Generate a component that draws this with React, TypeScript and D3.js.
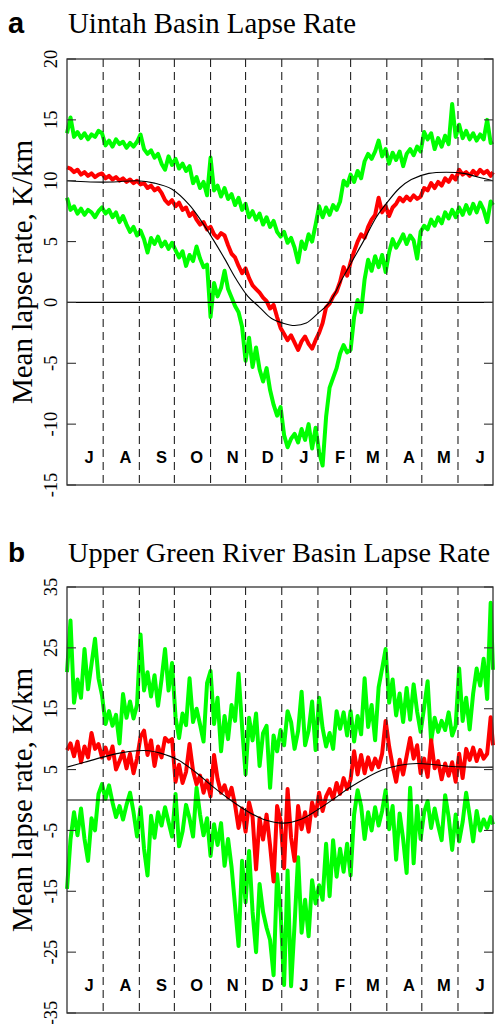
import React from "react";
import * as d3 from "d3";

// ---------- data ----------
const MONTHS = ["J", "A", "S", "O", "N", "D", "J", "F", "M", "A", "M", "J"];
const MONTH_START = [0, 31, 62, 92, 123, 153, 184, 215, 243, 274, 304, 335];
const STEP_DAYS = 3;

const TICKS_A = [20, 15, 10, 5, 0, -5, -10, -15];
const TICKS_B = [35, 25, 15, 5, -5, -15, -25, -35];

// Panel a: Uintah Basin (values every 3 days starting 1 July)
const UINTAH_HIGH = [
  13.9, 15.2, 13.6, 14.0, 13.5, 13.9, 13.4, 13.8, 13.6, 14.1,
  13.9, 12.9, 13.3, 12.8, 13.4, 13.0, 13.2, 12.7, 13.1, 12.8,
  13.2, 13.8, 12.6, 12.2, 12.5, 11.9, 12.2, 11.4, 10.9, 12.0,
  11.3, 11.8, 11.0, 11.4, 10.8, 11.2, 9.8, 10.3, 9.4, 9.9,
  8.8, 11.9, 9.2, 9.6, 8.7, 9.4, 8.5, 8.9, 8.0, 8.6,
  7.6, 8.1, 7.0, 7.5, 6.8, 7.3, 6.4, 7.0, 6.2, 6.7,
  5.8, 5.4, 5.8, 4.9, 5.3, 4.5, 3.3, 5.0, 4.4, 5.6,
  5.0, 6.4, 7.9, 7.0, 7.8, 7.2, 8.0, 7.6, 8.3, 10.0,
  9.6, 10.5, 9.9, 10.8, 10.2, 11.6, 12.2, 11.8, 12.4, 13.3,
  12.0, 12.6, 11.4, 12.3, 11.7, 12.4, 11.2, 12.2, 12.6, 12.1,
  12.8, 12.4, 14.0, 13.4, 13.9, 12.6, 13.5, 12.8, 13.7, 13.0,
  16.3, 13.6, 14.6, 13.5, 14.1, 13.4, 13.9, 13.3, 13.8, 13.4,
  15.0, 13.1, 13.2,
];
const UINTAH_MEAN = [
  11.1, 11.0, 10.7, 10.9, 10.5, 10.7, 10.4, 10.6, 10.3, 10.5,
  10.6, 10.2, 10.4, 10.1, 10.3, 10.0, 10.2, 9.9, 10.1, 9.8,
  10.0, 9.7, 9.8, 9.4, 9.6, 9.2, 9.4, 9.0, 8.4, 8.1,
  8.4, 7.9, 8.2, 7.6, 7.8, 7.1, 7.4, 6.8, 6.4, 6.6,
  6.0, 6.2, 5.6, 5.3, 5.7, 5.5, 4.7, 4.0, 3.7, 3.0,
  2.4, 2.8, 2.0, 1.4, 1.1, 0.8, 0.4, 0.1, -0.5, -0.2,
  -1.2, -2.1, -2.6, -3.1, -2.7, -3.3, -3.9, -3.2, -2.8, -3.4,
  -3.8, -3.1, -2.5, -1.7, -0.4, -0.1, 0.5, 0.9, 1.7, 2.9,
  2.2, 3.3, 4.2, 5.0, 5.6, 5.3, 6.2, 6.8, 7.2, 8.6,
  7.4, 7.9, 7.1, 7.8, 8.1, 8.6, 8.3, 8.7, 8.4, 8.8,
  8.5, 8.7, 9.4, 9.2, 9.8, 9.4, 9.9, 9.6, 10.2, 9.9,
  10.4, 10.1, 10.9, 10.5, 10.7, 10.4, 10.8, 10.5, 10.9, 10.6,
  10.8, 10.4, 10.7,
];
const UINTAH_LOW = [
  8.6, 7.6, 7.9, 7.3, 7.7, 7.2, 7.6, 7.4, 7.0, 7.5,
  7.8, 7.3, 7.6, 7.0, 7.4, 6.6, 7.1, 6.4, 5.8, 6.2,
  5.5, 5.9, 5.2, 4.1, 5.3, 4.8, 5.4, 4.6, 5.0, 4.4,
  4.9, 4.3, 3.7, 4.2, 3.0, 3.9, 3.4, 4.6, 3.6, 2.9,
  3.1, -1.2, 1.6, 0.5, 1.2, 2.6, 1.1, 0.4, -0.3, -0.8,
  -2.0, -4.8, -2.9, -5.3, -3.7, -5.5, -6.5, -5.4, -7.2, -8.4,
  -9.3, -8.6, -10.9, -11.9, -11.2, -10.8, -11.5, -10.4, -11.3, -10.0,
  -12.0, -10.3, -12.3, -13.4, -9.4, -7.0, -6.2, -5.4, -4.2, -3.5,
  -4.1, -3.9, -1.2, 0.2, -0.8, 1.9, 3.5, 2.6, 3.8, 2.9,
  3.9, 2.5, 4.1, 5.2, 4.5, 5.0, 5.6, 4.8, 5.5, 5.1,
  3.6, 5.8, 6.3, 6.0, 6.8, 6.3, 7.0, 6.5, 7.4, 6.9,
  7.6, 7.0, 7.8, 7.2, 8.0, 7.3, 8.1, 7.4, 8.2, 7.6,
  6.6, 8.3, 8.0,
];
const UINTAH_FIT_DAYS = [0, 20, 40, 60, 75, 90, 105, 115, 125, 135, 145, 155, 165, 175, 185, 195, 205, 215, 225, 235, 245, 255, 265, 275, 285, 295, 310, 325, 340, 352, 365];
const UINTAH_FIT = [10.0, 9.9, 9.9, 10.0, 9.8, 9.3, 8.0, 6.7, 5.2, 3.6, 1.9, 0.5, -0.4, -1.3, -1.7, -1.9, -1.7, -0.9, 0.0, 1.8, 3.5, 5.2, 7.0, 8.3, 9.4, 10.1, 10.6, 10.7, 10.6, 10.3, 10.0];

// Panel b: Upper Green River Basin
const GREEN_HIGH = [
  21.0, 29.5, 16.0, 19.8, 16.8, 24.8, 18.2, 22.3, 26.5, 20.0,
  17.2, 12.5, 14.6, 12.2, 14.0, 9.3, 17.4, 13.5, 16.2, 13.4,
  15.6, 27.2, 18.0, 21.0, 17.0, 20.5, 15.5, 19.8, 24.8, 18.0,
  22.5, 13.6, 10.2, 14.2, 12.3, 20.0, 12.8, 15.0, 12.4, 9.6,
  19.2, 21.2, 12.5, 16.8, 8.0, 13.8, 10.0, 15.6, 13.0, 20.8,
  12.0, 4.2, 13.5, 9.8, 14.2, 5.6, 11.0, 12.2, 2.0, 10.6,
  8.0, 11.5, 9.0, 14.6, 12.8, 8.4, 11.3, 17.8, 9.0, 11.4,
  16.2, 8.2, 16.8, 11.8, 8.8, 11.0, 8.4, 14.6, 11.7, 14.4,
  10.6, 14.6, 9.6, 13.8, 10.8, 20.0, 12.0, 15.6, 9.8, 18.5,
  21.6, 24.8, 16.0, 19.8, 13.9, 17.5, 12.8, 18.4, 13.2, 19.0,
  14.5, 11.2, 15.2, 19.5, 9.6, 13.5, 11.2, 13.0, 11.5, 14.4,
  10.6, 12.2, 21.6, 13.0, 16.8, 11.6, 17.5, 21.6, 18.8, 23.2,
  16.6, 32.4, 21.4,
];
const GREEN_MEAN = [
  8.2, 9.3, 7.2, 9.6, 6.2, 8.8, 7.0, 11.0, 8.4, 9.2,
  7.0, 8.6, 6.8, 8.8, 5.0, 6.4, 7.9, 5.2, 7.6, 4.4,
  6.8, 10.4, 11.4, 7.4, 9.8, 5.6, 8.8, 7.0, 10.2, 9.6,
  10.0, 3.0, 5.8, 2.8, 4.6, 9.2, 4.8, 2.6, 4.0, 1.2,
  3.2, 0.6, 7.4, 3.5, 1.2, 2.4, 0.4, 2.0, -0.8, -4.6,
  -1.4, -5.2, -0.4, -2.8, -11.4, -3.0, -6.5, -2.4, -7.5, -13.4,
  -1.0, -3.4, -11.2, 1.8, -6.2, -10.0, -1.0, -4.8, -2.0, -5.2,
  -0.4, -2.6, 1.2, -1.8, 0.6, 1.8, 0.2, 2.8, 1.0, 3.6,
  1.8, 3.4, 8.0, 4.2, 7.4, 4.4, 7.0, 5.0, 6.8, 5.4,
  7.6, 13.0, 8.8, 5.6, 3.0, 6.6, 4.2, 7.2, 10.2, 6.8,
  9.0, 4.4, 6.8, 3.8, 9.8, 5.2, 6.4, 3.4, 6.0, 4.0,
  6.2, 3.0, 7.6, 3.6, 8.4, 6.6, 8.6, 6.4, 8.2, 6.8,
  7.6, 13.6, 9.0,
];
const GREEN_LOW = [
  -14.6, -6.5, -2.0, -5.8, -1.4, -6.4, -10.0, -3.0, -5.0, 1.0,
  2.6, 0.2, 2.4, -0.4, -2.8, -1.0, -3.2, -0.8, 1.2, -2.0,
  -6.0, -1.2, -8.0, -12.4, -2.6, -6.2, -2.0, -4.2, -1.2, -3.6,
  -6.0, 1.0, -7.6, -5.2, -0.8, -3.0, -6.0, 2.0, -2.4, -5.8,
  -3.0, -9.2, -4.0, -7.4, -3.8, -10.8, -6.4, -11.0, -17.4, -24.0,
  -10.0, -16.8, -8.4, -18.4, -25.0, -13.8, -18.4, -21.0, -23.0, -28.8,
  -12.2, -18.4, -30.4, -11.6, -30.6, -20.4, -9.4, -21.8, -16.4, -22.4,
  -13.2, -17.0, -14.0, -16.4, -7.2, -15.8, -6.6, -12.6, -8.0, -11.8,
  -7.2, -12.4, -2.4, 1.6, -1.0, -6.4, -2.0, -5.0, -1.2, -4.2,
  -1.8, 1.6, -4.8, -1.0, -9.8, -2.2, -6.4, -12.0, 2.0, -10.4,
  -1.0, -6.4, -2.0, -0.2, -4.6, -1.4, -4.2, -6.6, 0.8, -2.8,
  -8.2, -2.4, -6.8, -3.6, 1.2, -2.6, -6.8, -1.8, -5.0, -3.2,
  -4.6, -2.8, -4.0,
];
const GREEN_FIT_DAYS = [0, 15, 30, 45, 60, 70, 80, 95, 110, 125, 140, 155, 170, 185, 200, 214, 228, 242, 257, 271, 285, 300, 315, 330, 350, 365];
const GREEN_FIT = [5.4, 6.2, 7.0, 7.7, 8.1, 8.1, 7.7, 6.6, 4.6, 2.2, 0.0, -1.9, -3.3, -3.8, -3.2, -1.7, 0.1, 2.0, 3.7, 5.0, 5.7, 6.0, 5.8, 5.5, 5.4, 5.4];

// ---------- drawing ----------
const SERIF = "'Liberation Serif', 'Times New Roman', Times, serif";
const SANS = "'Liberation Sans', Arial, Helvetica, sans-serif";
const X0 = 67;
const X1 = 493;
const x = d3.scaleLinear().domain([0, 365]).range([X0, X1]);

type PanelProps = {
  top: number;
  bottom: number;
  domain: [number, number];
  ticks: number[];
  high: number[];
  mean: number[];
  low: number[];
  fitDays: number[];
  fit: number[];
  letter: string;
  title: string;
  titleY: number;
  titleSize: number;
  titleWidth: number;
};

function Panel(p: PanelProps) {
  const y = d3.scaleLinear().domain(p.domain).range([p.bottom, p.top]);
  const series = (vals: number[]) =>
    d3
      .line<number>()
      .x((_, i) => x(Math.min(i * STEP_DAYS, 365)))
      .y((v) => y(v))(vals) || "";
  const fitLine =
    d3
      .line<number>()
      .x((_, i) => x(p.fitDays[i]))
      .y((v) => y(v))
      .curve(d3.curveCatmullRom)(p.fit) || "";
  const midY = (p.top + p.bottom) / 2;
  return (
    <g>
      <text x={8} y={p.titleY} fontFamily={SANS} fontWeight="bold" fontSize={p.titleSize} fill="#000">
        {p.letter}
      </text>
      <text
        x={68}
        y={p.titleY}
        fontFamily={SERIF}
        fontSize={p.titleSize}
        textLength={p.titleWidth}
        lengthAdjust="spacingAndGlyphs"
        fill="#000"
      >
        {p.title}
      </text>
      <path d={series(p.high)} fill="none" stroke="#00ff00" strokeWidth={4} strokeLinejoin="round" />
      <path d={series(p.low)} fill="none" stroke="#00ff00" strokeWidth={4} strokeLinejoin="round" />
      <path d={series(p.mean)} fill="none" stroke="#ff0000" strokeWidth={4} strokeLinejoin="round" />
      {MONTH_START.slice(1).map((d) => (
        <line key={d} x1={x(d)} x2={x(d)} y1={p.top} y2={p.bottom} stroke="#222" strokeWidth={1.1} strokeDasharray="8,5" />
      ))}
      <line x1={X0} x2={X1} y1={y(0)} y2={y(0)} stroke="#000" strokeWidth={1.2} />
      <path d={fitLine} fill="none" stroke="#000" strokeWidth={1.1} />
      <rect x={X0} y={p.top} width={X1 - X0} height={p.bottom - p.top} fill="none" stroke="#333" strokeWidth={1.3} />
      {p.ticks.map((t) => (
        <g key={t}>
          <line x1={X0} x2={X0 + 9} y1={y(t)} y2={y(t)} stroke="#333" strokeWidth={1.1} />
          <line x1={X1 - 9} x2={X1} y1={y(t)} y2={y(t)} stroke="#333" strokeWidth={1.1} />
          <text
            transform={`translate(57,${y(t)}) rotate(-90)`}
            textAnchor="middle"
            fontFamily={SERIF}
            fontSize={18.5}
            fill="#000"
          >
            {String(t)}
          </text>
        </g>
      ))}
      {MONTHS.map((m, i) => (
        <text
          key={i}
          x={x(MONTH_START[i] + 19)}
          y={p.bottom - 22}
          textAnchor="middle"
          fontFamily={SANS}
          fontWeight="bold"
          fontSize={16.5}
          fill="#000"
        >
          {m}
        </text>
      ))}
      <text
        transform={`translate(32,${midY}) rotate(-90)`}
        textAnchor="middle"
        fontFamily={SERIF}
        fontSize={29}
        fill="#000"
      >
        Mean lapse rate, K/km
      </text>
    </g>
  );
}

export default function App() {
  return (
    <svg
      width={502}
      height={1024}
      viewBox="0 0 502 1024"
      style={{ position: "absolute", left: 0, top: 0, background: "#fff" }}
    >
      <rect x={0} y={0} width={502} height={1024} fill="#fff" />
      <Panel
        top={59}
        bottom={485}
        domain={[-15, 20]}
        ticks={TICKS_A}
        high={UINTAH_HIGH}
        mean={UINTAH_MEAN}
        low={UINTAH_LOW}
        fitDays={UINTAH_FIT_DAYS}
        fit={UINTAH_FIT}
        letter="a"
        title="Uintah Basin Lapse Rate"
        titleY={33}
        titleSize={29}
        titleWidth={288}
      />
      <Panel
        top={587}
        bottom={1013}
        domain={[-35, 35]}
        ticks={TICKS_B}
        high={GREEN_HIGH}
        mean={GREEN_MEAN}
        low={GREEN_LOW}
        fitDays={GREEN_FIT_DAYS}
        fit={GREEN_FIT}
        letter="b"
        title="Upper Green River Basin Lapse Rate"
        titleY={562}
        titleSize={28}
        titleWidth={422}
      />
    </svg>
  );
}
